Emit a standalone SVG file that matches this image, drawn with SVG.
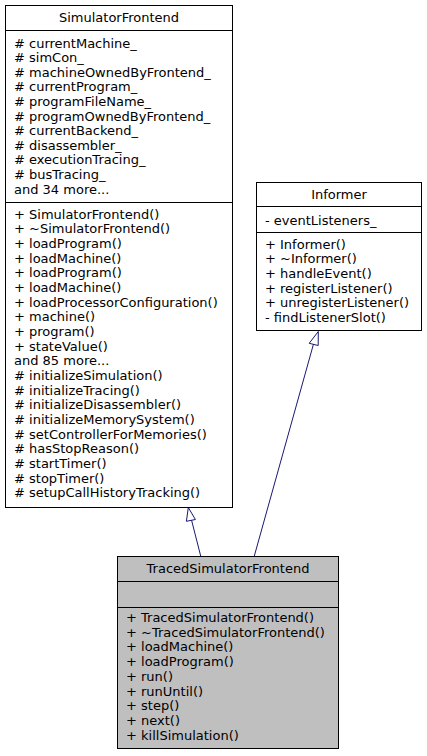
<svg xmlns="http://www.w3.org/2000/svg" width="427" height="756" viewBox="0 0 427 756">
<style>
text{font-family:"DejaVu Sans",sans-serif;font-size:13px;fill:#000}
.c{text-anchor:middle}
.box{fill:#fff;stroke:#000;stroke-width:1}
.grey{fill:#bfbfbf;stroke:#000;stroke-width:1}
.ln{stroke:#000;stroke-width:1}
.edge{stroke:#191970;stroke-width:1;fill:none}
.head{fill:#fff;stroke:#191970;stroke-width:1}
</style>
<rect width="427" height="756" fill="#fff"/>
<g id="edges">
<path class="edge" d="M200.7,556 L191.5,520"/>
<polygon class="head" points="188.3,507.5 186.4,521.3 195.4,519.5"/>
<path class="edge" d="M254.3,556 L313.5,344"/>
<polygon class="head" points="318.3,331.5 309.2,343.3 318.2,345.5"/>
</g>
<g id="SimulatorFrontend">
<rect class="box" x="5.5" y="5.5" width="227" height="502"/>
<line class="ln" x1="5.5" y1="30.5" x2="232.5" y2="30.5"/>
<line class="ln" x1="5.5" y1="202.5" x2="232.5" y2="202.5"/>
<text class="c" x="119" y="22">SimulatorFrontend</text>
<text x="14" y="47.5"># currentMachine_</text>
<text x="14" y="62.1"># simCon_</text>
<text x="14" y="76.7"># machineOwnedByFrontend_</text>
<text x="14" y="91.3"># currentProgram_</text>
<text x="14" y="105.9"># programFileName_</text>
<text x="14" y="120.5"># programOwnedByFrontend_</text>
<text x="14" y="135.1"># currentBackend_</text>
<text x="14" y="149.7"># disassembler_</text>
<text x="14" y="164.3"># executionTracing_</text>
<text x="14" y="178.9"># busTracing_</text>
<text x="14" y="193.5">and 34 more...</text>
<text x="14" y="218.5">+ SimulatorFrontend()</text>
<text x="14" y="233.2">+ ~SimulatorFrontend()</text>
<text x="14" y="247.8">+ loadProgram()</text>
<text x="14" y="262.5">+ loadMachine()</text>
<text x="14" y="277.2">+ loadProgram()</text>
<text x="14" y="291.8">+ loadMachine()</text>
<text x="14" y="306.5">+ loadProcessorConfiguration()</text>
<text x="14" y="321.2">+ machine()</text>
<text x="14" y="335.8">+ program()</text>
<text x="14" y="350.5">+ stateValue()</text>
<text x="14" y="365.2">and 85 more...</text>
<text x="14" y="379.8"># initializeSimulation()</text>
<text x="14" y="394.5"># initializeTracing()</text>
<text x="14" y="409.2"># initializeDisassembler()</text>
<text x="14" y="423.8"># initializeMemorySystem()</text>
<text x="14" y="438.5"># setControllerForMemories()</text>
<text x="14" y="453.2"># hasStopReason()</text>
<text x="14" y="467.8"># startTimer()</text>
<text x="14" y="482.5"># stopTimer()</text>
<text x="14" y="497.2"># setupCallHistoryTracking()</text>
</g>
<g id="Informer">
<rect class="box" x="256.5" y="182.5" width="165" height="148"/>
<line class="ln" x1="256.5" y1="206.5" x2="421.5" y2="206.5"/>
<line class="ln" x1="256.5" y1="232.5" x2="421.5" y2="232.5"/>
<text class="c" x="339" y="199">Informer</text>
<text x="265" y="225">- eventListeners_</text>
<text x="265" y="248.5">+ Informer()</text>
<text x="265" y="263.2">+ ~Informer()</text>
<text x="265" y="277.8">+ handleEvent()</text>
<text x="265" y="292.5">+ registerListener()</text>
<text x="265" y="307.2">+ unregisterListener()</text>
<text x="265" y="321.8">- findListenerSlot()</text>
</g>
<g id="TracedSimulatorFrontend">
<rect class="grey" x="117.5" y="556.5" width="221" height="192"/>
<line class="ln" x1="117.5" y1="581.5" x2="338.5" y2="581.5"/>
<line class="ln" x1="117.5" y1="607.5" x2="338.5" y2="607.5"/>
<text class="c" x="228" y="573">TracedSimulatorFrontend</text>
<text x="126" y="622">+ TracedSimulatorFrontend()</text>
<text x="126" y="636.7">+ ~TracedSimulatorFrontend()</text>
<text x="126" y="651.4">+ loadMachine()</text>
<text x="126" y="666.1">+ loadProgram()</text>
<text x="126" y="680.8">+ run()</text>
<text x="126" y="695.5">+ runUntil()</text>
<text x="126" y="710.2">+ step()</text>
<text x="126" y="724.9">+ next()</text>
<text x="126" y="739.6">+ killSimulation()</text>
</g>
</svg>
